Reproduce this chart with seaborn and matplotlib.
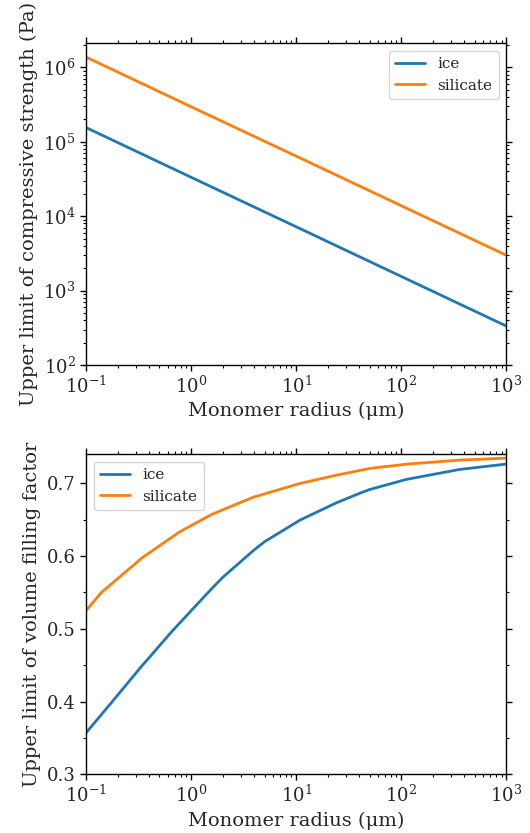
import numpy as np
import pandas as pd
import matplotlib
matplotlib.use("Agg")
import matplotlib.pyplot as plt
import seaborn as sns
from matplotlib.ticker import MultipleLocator

# ---- data ----
radius_top = [0.1, 1.0, 10.0, 100.0, 1000.0]
strength_ice = [1.55e5, 3.33e4, 7.2e3, 1.55e3, 3.34e2]
strength_silicate = [1.37e6, 2.95e5, 6.4e4, 1.38e4, 2.98e3]

radius_ice = [0.1, 0.178, 0.331, 0.662, 1.58, 2.0, 3.9, 5.0, 10.9,
              24.3, 40, 50.3, 112, 360, 1000]
phi_ice = [0.357, 0.400, 0.447, 0.497, 0.5557, 0.5708, 0.6075, 0.6198,
           0.6496, 0.6735, 0.6863, 0.6917, 0.7055, 0.7192, 0.7266]

radius_sil = [0.1, 0.14, 0.344, 0.78, 1.58, 2.0, 3.9, 10.9, 24.3, 50.3,
              112, 360, 1000]
phi_silicate = [0.525, 0.550, 0.598, 0.6335, 0.6575, 0.6637, 0.681,
                0.700, 0.7114, 0.7206, 0.7265, 0.732, 0.7348]

materials = ["ice", "silicate"]

df_top = pd.DataFrame({
    "radius": radius_top * 2,
    "value": strength_ice + strength_silicate,
    "material": [materials[0]] * len(radius_top) + [materials[1]] * len(radius_top),
})
df_bot = pd.DataFrame({
    "radius": radius_ice + radius_sil,
    "value": phi_ice + phi_silicate,
    "material": [materials[0]] * len(radius_ice) + [materials[1]] * len(radius_sil),
})

sns.set_style("ticks")
plt.rcParams["font.family"] = ["DejaVu Serif"]
plt.rcParams["mathtext.fontset"] = "dejavuserif"
plt.rcParams["font.size"] = 12

palette = {"ice": "#1f77b4", "silicate": "#ff7f0e"}

fig = plt.figure(figsize=(5.30, 8.33), dpi=100)
ax1 = fig.add_axes([0.1623, 0.5618, 0.9553 - 0.1623, 0.948 - 0.5618])
ax2 = fig.add_axes([0.1623, 0.0705, 0.9553 - 0.1623, 0.4546 - 0.0705])

sns.lineplot(data=df_top, x="radius", y="value", hue="material", palette=palette,
             linewidth=2, ax=ax1)
sns.lineplot(data=df_bot, x="radius", y="value", hue="material", palette=palette,
             linewidth=2, ax=ax2)

ax1.set_xscale("log")
ax1.set_yscale("log")
ax1.set_xlim(0.1, 1000)
ax1.set_ylim(1e2, 2.1e6)
ax1.set_xlabel("Monomer radius (μm)", fontsize=14)
ax1.set_ylabel("Upper limit of compressive strength (Pa)", fontsize=14)

ax2.set_xscale("log")
ax2.set_xlim(0.1, 1000)
ax2.set_ylim(0.3, 0.74)
ax2.yaxis.set_major_locator(MultipleLocator(0.1))
ax2.yaxis.set_minor_locator(MultipleLocator(0.05))
ax2.set_xlabel("Monomer radius (μm)", fontsize=14)
ax2.set_ylabel("Upper limit of volume filling factor", fontsize=14)

for ax in (ax1, ax2):
    ax.tick_params(which="both", direction="out", top=True, right=True,
                   labelsize=13, color="black")
    ax.tick_params(which="major", length=4, width=1)
    ax.tick_params(which="minor", length=2, width=0.8)
    for s in ax.spines.values():
        s.set_color("black")
        s.set_linewidth(1)

ax1.legend(loc="upper right", fontsize=11, title=None)
ax2.legend(loc="upper left", fontsize=11, title=None)

fig.savefig("out.png", dpi=100)
